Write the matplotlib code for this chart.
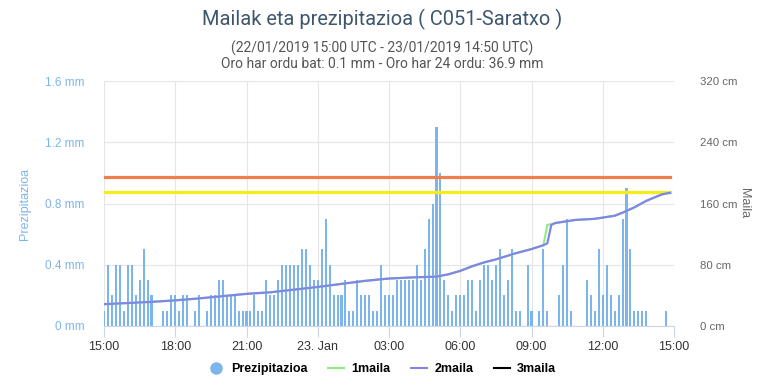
import numpy as np
import pandas as pd
import matplotlib
matplotlib.use("Agg")
import matplotlib.pyplot as plt
import matplotlib.dates as mdates
from matplotlib.lines import Line2D

plt.rcParams['font.family'] = ['Liberation Sans', 'DejaVu Sans']

# Prezipitazioa (mm / 10 min), 22/01 15:00 -> 23/01 14:50
prezip = [0.1, 0.4, 0.2, 0.4, 0.4, 0.1, 0.4, 0.4, 0.2, 0.3, 0.5, 0.3, 0.2, 0, 0, 0.1,
          0.1, 0.2, 0.2, 0.1, 0.2, 0.2, 0, 0.1, 0.2, 0, 0.1, 0.2, 0.2, 0.3, 0.3, 0.2,
          0.2, 0.2, 0.1, 0.1, 0.1, 0.1, 0.2, 0.1, 0.1, 0.3, 0.2, 0.2, 0.3, 0.4, 0.4, 0.4,
          0.4, 0.4, 0.5, 0.5, 0.4, 0.3, 0.3, 0.5, 0.7, 0.4, 0.2, 0.2, 0.2, 0.3, 0.1, 0.1,
          0.3, 0.2, 0.2, 0.2, 0.1, 0.1, 0.4, 0.2, 0.2, 0.2, 0.3, 0.3, 0.3, 0.3, 0.3, 0.4,
          0.3, 0.5, 0.7, 0.8, 1.3, 1.0, 0.3, 0.2, 0.1, 0.2, 0.2, 0.2, 0.3, 0.3, 0.1, 0.3,
          0.4, 0.4, 0.3, 0.4, 0.5, 0.2, 0.3, 0.5, 0.1, 0.1, 0, 0.4, 0.1, 0, 0.1, 0.5,
          0.1, 0, 0, 0.2, 0.4, 0.7, 0.1, 0, 0, 0, 0.3, 0.2, 0.1, 0.5, 0.2, 0.4,
          0.2, 0.1, 0.2, 0.7, 0.9, 0.5, 0.1, 0.1, 0.1, 0.1, 0, 0, 0, 0, 0.1, 0]
prezip_times = pd.date_range("2019-01-22 15:00", periods=len(prezip), freq="10min")

# 2maila (cm)
maila2_times = ["2019-01-22 15:00", "2019-01-22 16:00", "2019-01-22 17:00", "2019-01-22 18:00",
                "2019-01-22 19:00", "2019-01-22 20:00", "2019-01-22 21:00", "2019-01-22 22:00",
                "2019-01-22 23:00", "2019-01-23 00:00", "2019-01-23 01:00", "2019-01-23 02:00",
                "2019-01-23 03:00", "2019-01-23 04:00", "2019-01-23 05:00", "2019-01-23 05:30",
                "2019-01-23 06:00", "2019-01-23 06:30", "2019-01-23 07:00", "2019-01-23 07:30",
                "2019-01-23 08:20", "2019-01-23 09:00", "2019-01-23 09:30", "2019-01-23 09:40",
                "2019-01-23 09:50", "2019-01-23 10:00", "2019-01-23 10:50", "2019-01-23 11:40",
                "2019-01-23 12:30", "2019-01-23 12:50", "2019-01-23 13:20", "2019-01-23 13:50",
                "2019-01-23 14:30", "2019-01-23 14:50"]
maila2 = [28.5, 30, 31.5, 33.5, 36, 39, 42, 44, 47.5, 51, 55, 59, 62, 63.5, 64.5, 67.5,
          72, 78, 83, 87, 95, 100.5, 105.5, 108, 132, 134.5, 138.5, 140, 144, 148, 155,
          163.5, 172, 174]
# 1maila (cm)
maila1 = [28.5, 30, 31.5, 33.5, 36, 39, 42, 44, 47.5, 51, 55, 59, 62, 63.5, 64.5, 67.5,
          72, 78, 83, 87, 95, 100.5, 105.5, 132, 133, 134.5, 138.5, 140, 144, 148, 155,
          163.5, 172, 174]

# alarm levels (cm)
orange_level = 195
yellow_level = 175

W, H = 764, 388
fig = plt.figure(figsize=(W / 100, H / 100), dpi=100)
ax = fig.add_axes([104 / W, 1 - 326 / H, 570 / W, 245 / H])
ax2 = ax.twinx()

ax.bar(prezip_times, prezip, width=pd.Timedelta(minutes=5.2), color="#7cb5ec", zorder=2)

t2 = pd.to_datetime(maila2_times)
ax2.plot([prezip_times[0], prezip_times[-1]], [orange_level] * 2, color="#ee7f4b", lw=2.3, zorder=3)
ax2.plot([prezip_times[0], prezip_times[-1]], [yellow_level] * 2, color="#f7ec1b", lw=2.3, zorder=3)
ax2.plot(t2, maila1, color="#90ed7d", lw=1.5, zorder=4)
ax2.plot(t2, maila2, color="#8085e9", lw=1.6, zorder=5)

start = pd.Timestamp("2019-01-22 15:00")
end = pd.Timestamp("2019-01-23 15:00")
ax.set_xlim(start, end)
ax.set_ylim(0, 1.6)
ax2.set_ylim(0, 320)

ticks = pd.date_range(start, end, freq="3h")
ax.set_xticks(ticks)
ax.set_xticklabels(["23. Jan" if t.hour == 0 else t.strftime("%H:%M") for t in ticks],
                   fontsize=9, color="#333333")
ax.set_yticks([0, 0.4, 0.8, 1.2, 1.6])
ax.set_yticklabels(["0 mm", "0.4 mm", "0.8 mm", "1.2 mm", "1.6 mm"],
                   fontsize=8.5, color="#7cb5ec")
ax2.set_yticks([0, 80, 160, 240, 320])
ax2.set_yticklabels(["0 cm", "80 cm", "160 cm", "240 cm", "320 cm"],
                    fontsize=8.2, color="#666666")

ax.grid(True, color="#e6e6e6", lw=0.8, zorder=0)
ax.set_axisbelow(True)
for a in (ax, ax2):
    for s in ("top", "left", "right"):
        a.spines[s].set_visible(False)
ax2.spines["bottom"].set_visible(False)
ax.spines["bottom"].set_color("#ccd6eb")
ax.tick_params(axis="x", length=8, color="#ccd6eb", pad=3)
ax.tick_params(axis="y", length=0, pad=14)
ax2.tick_params(axis="y", length=0, pad=19)

ax.set_ylabel("Prezipitazioa", color="#7cb5ec", fontsize=9, labelpad=10)
ax2.set_ylabel("Maila", color="#666666", fontsize=9, rotation=270, labelpad=9)

fig.text(0.5, 1 - 19 / H, "Mailak eta prezipitazioa ( C051-Saratxo )", ha="center", va="center",
         fontsize=14.4, color="#3e576f", family=['Roboto', 'DejaVu Sans'])
fig.text(0.5, 1 - 48 / H, "(22/01/2019 15:00 UTC - 23/01/2019 14:50 UTC)", ha="center", va="center",
         fontsize=10, color="#555555", family=['Roboto', 'DejaVu Sans'])
fig.text(0.5, 1 - 64 / H, "Oro har ordu bat: 0.1 mm - Oro har 24 ordu: 36.9 mm", ha="center",
         va="center", fontsize=10, color="#555555", family=['Roboto', 'DejaVu Sans'])

handles = [Line2D([], [], marker="o", ls="", color="#7cb5ec", markersize=8),
           Line2D([], [], color="#90ed7d", lw=1.5),
           Line2D([], [], color="#8085e9", lw=1.5),
           Line2D([], [], color="#000000", lw=1.5)]
fig.legend(handles, ["Prezipitazioa", "1maila", "2maila", "3maila"], loc="center",
           bbox_to_anchor=(0.5, 1 - 369 / H), ncol=4, frameon=False, handlelength=1.3,
           columnspacing=1.6, handletextpad=0.6,
           prop={"weight": "bold", "size": 9})

fig.savefig("out.png", dpi=100)
